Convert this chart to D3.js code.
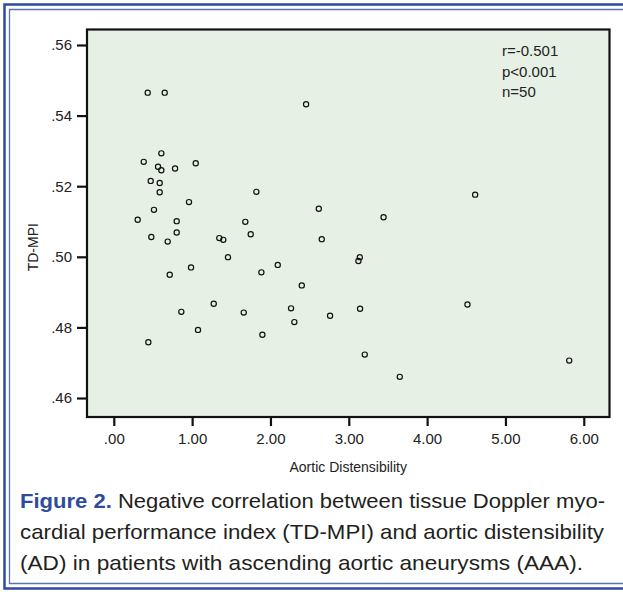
<!DOCTYPE html>
<html>
<head>
<meta charset="utf-8">
<script src="https://cdn.jsdelivr.net/npm/d3@7"></script>
<style>
  html, body { margin: 0; padding: 0; background: #fff; }
  svg { display: block; font-family: "Liberation Sans", Arial, Helvetica, sans-serif; }
</style>
</head>
<body>
<svg id="chart" width="623" height="594"></svg>
<script>
// aortic distensibility (x) and TD-MPI (y)
var adValues = [0.433, 0.650, 2.455, 0.607, 0.382, 0.565, 0.607, 0.782, 1.046, 0.471,
  0.586, 0.586, 1.820, 0.960, 2.617, 0.513, 0.305, 0.803, 1.679, 0.479,
  0.803, 0.688, 1.347, 1.398, 1.748, 2.655, 1.458, 0.986, 0.714, 1.884,
  2.093, 2.400, 1.276, 0.862, 1.659, 2.263, 2.305, 2.761, 1.075, 1.897,
  0.441, 4.613, 3.444, 3.141, 3.123, 3.144, 4.515, 3.204, 3.651, 5.814];
var mpiValues = [0.5465, 0.5465, 0.5432, 0.5293, 0.5269, 0.5255, 0.5245, 0.5250, 0.5265, 0.5215,
  0.5209, 0.5183, 0.5184, 0.5155, 0.5136, 0.5133, 0.5105, 0.5101, 0.5099, 0.5056,
  0.5069, 0.5043, 0.5053, 0.5048, 0.5064, 0.5050, 0.4999, 0.4970, 0.4949, 0.4956,
  0.4977, 0.4919, 0.4867, 0.4844, 0.4842, 0.4854, 0.4815, 0.4833, 0.4793, 0.4779,
  0.4758, 0.5176, 0.5112, 0.4999, 0.4988, 0.4853, 0.4865, 0.4723, 0.4660, 0.4706];

var xTicks = [0, 1, 2, 3, 4, 5, 6];
var yTicks = [0.46, 0.48, 0.50, 0.52, 0.54, 0.56];
var statLines = ["r=-0.501", "p<0.001", "n=50"];
var xTitle = "Aortic Distensibility";
var yTitle = "TD-MPI";
var captionLead = "Figure 2.";
var captionLines = [
  " Negative correlation between tissue Doppler myo-",
  "cardial performance index (TD-MPI) and aortic distensibility",
  "(AD) in patients with ascending aortic aneurysms (AAA)."
];

var svg = d3.select("#chart");
var plotLeft = 87, plotRight = 609.5, plotTop = 29.5, plotBottom = 417;

var x = d3.scaleLinear().domain([-0.3421, 6.3284]).range([plotLeft, plotRight]);
var y = d3.scaleLinear().domain([0.45462, 0.56439]).range([plotBottom, plotTop]);

// frame round the figure
svg.append("path")
  .attr("d", "M700,4.5 H4.5 V588.5 H700")
  .attr("fill", "none").attr("stroke", "#2e4b9e").attr("stroke-width", 2.5);
svg.append("path")
  .attr("d", "M700,9.5 H9.5 V583.5 H700")
  .attr("fill", "none").attr("stroke", "#5a72b8").attr("stroke-width", 1.3);

// plot area
svg.append("rect")
  .attr("x", plotLeft).attr("y", plotTop)
  .attr("width", plotRight - plotLeft).attr("height", plotBottom - plotTop)
  .attr("fill", "#e7f0e5").attr("stroke", "#111").attr("stroke-width", 2.2);

var xAxis = svg.append("g")
  .attr("transform", "translate(0," + (plotBottom + 1) + ")")
  .call(d3.axisBottom(x).tickValues(xTicks).tickSize(8).tickPadding(7)
    .tickFormat(function (d) { return d === 0 ? ".00" : d3.format(".2f")(d); }));
xAxis.select(".domain").remove();
xAxis.selectAll("line").attr("stroke", "#111").attr("stroke-width", 2.2);
xAxis.selectAll("text").attr("font-size", 15).attr("fill", "#222")
  .attr("font-family", "Liberation Sans, Arial, sans-serif");

var yAxis = svg.append("g")
  .attr("transform", "translate(" + (plotLeft - 1) + ",0)")
  .call(d3.axisLeft(y).tickValues(yTicks).tickSize(9).tickPadding(5)
    .tickFormat(function (d) { return d3.format(".2f")(d).replace(/^0/, ""); }));
yAxis.select(".domain").remove();
yAxis.selectAll("line").attr("stroke", "#111").attr("stroke-width", 2.2);
yAxis.selectAll("text").attr("font-size", 15).attr("fill", "#222")
  .attr("font-family", "Liberation Sans, Arial, sans-serif");

svg.append("text")
  .attr("x", (plotLeft + plotRight) / 2).attr("y", 472)
  .attr("text-anchor", "middle").attr("font-size", 14).attr("fill", "#222")
  .text(xTitle);

svg.append("text")
  .attr("transform", "translate(38," + ((plotTop + plotBottom) / 2 + 24) + ") rotate(-90)")
  .attr("text-anchor", "middle").attr("font-size", 14).attr("fill", "#222")
  .text(yTitle);

// points
var points = adValues.map(function (d, i) { return [d, mpiValues[i]]; });
svg.append("g").selectAll("circle")
  .data(points)
  .enter().append("circle")
  .attr("cx", function (d) { return x(d[0]); })
  .attr("cy", function (d) { return y(d[1]); })
  .attr("r", 2.6)
  .attr("fill", "none")
  .attr("stroke", "#111")
  .attr("stroke-width", 1.2);

// statistics
svg.append("g").selectAll("text")
  .data(statLines)
  .enter().append("text")
  .attr("x", 502)
  .attr("y", function (d, i) { return 56 + i * 20.5; })
  .attr("font-size", 15).attr("fill", "#222")
  .text(function (d) { return d; });

// caption
var cap = svg.append("g").attr("font-size", 21).attr("fill", "#231f20");
var first = cap.append("text").attr("x", 20).attr("y", 508)
  .attr("textLength", 585).attr("lengthAdjust", "spacingAndGlyphs");
first.append("tspan").attr("fill", "#2e4b9e").attr("font-weight", "bold").text(captionLead);
first.append("tspan").text(captionLines[0]);
cap.append("text").attr("x", 20).attr("y", 539)
  .attr("textLength", 584).attr("lengthAdjust", "spacingAndGlyphs")
  .text(captionLines[1]);
cap.append("text").attr("x", 20).attr("y", 570)
  .attr("textLength", 563).attr("lengthAdjust", "spacingAndGlyphs")
  .text(captionLines[2]);
</script>
</body>
</html>
